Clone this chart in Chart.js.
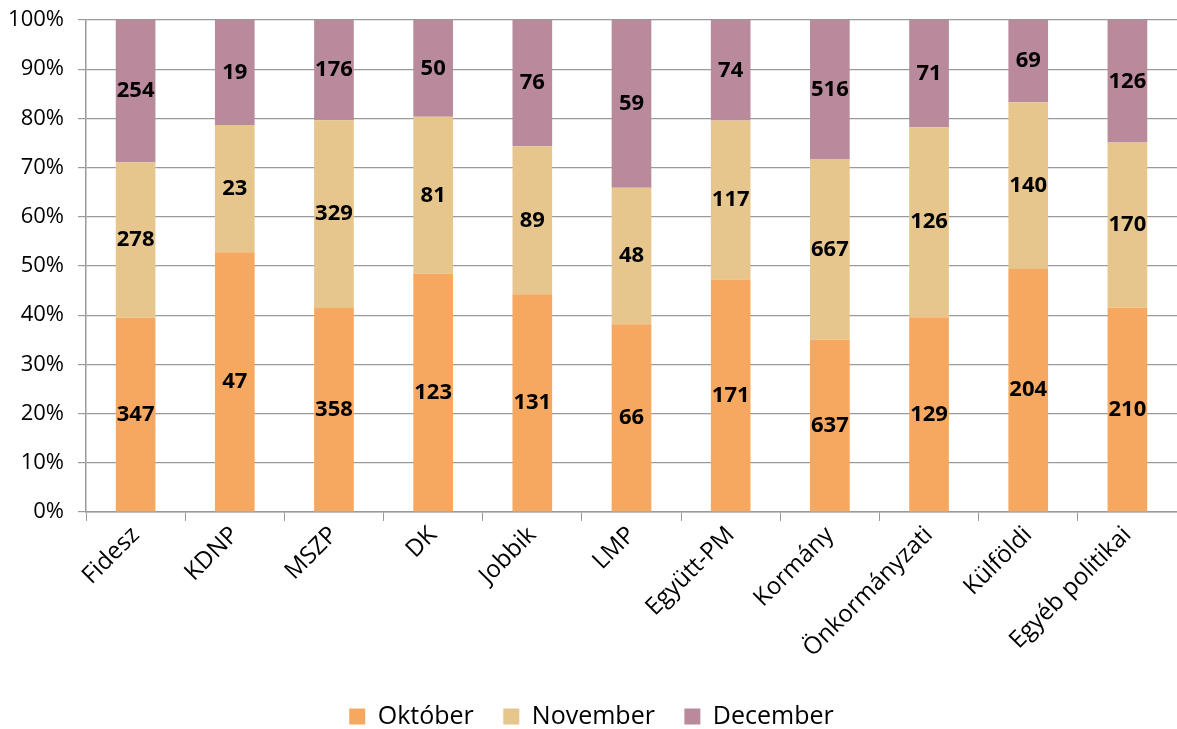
<!DOCTYPE html>
<html>
<head>
<meta charset="utf-8">
<script src="https://cdn.jsdelivr.net/npm/chart.js@4/dist/chart.umd.min.js"></script>
<style>
    html, body { margin: 0; padding: 0; background: #fff; }
    #wrap { width: 1177px; height: 729px; }
</style>
</head>
<body>
<div id="wrap"><canvas id="chart"></canvas></div>
<script>
const categories = ['Fidesz', 'KDNP', 'MSZP', 'DK', 'Jobbik', 'LMP', 'Együtt-PM', 'Kormány', 'Önkormányzati', 'Külföldi', 'Egyéb politikai'];
const oktober = [347, 47, 358, 123, 131, 66, 171, 637, 129, 204, 210];
const november = [278, 23, 329, 81, 89, 48, 117, 667, 126, 140, 170];
const december = [254, 19, 176, 50, 76, 59, 74, 516, 71, 69, 126];
const seriesNames = ['Október', 'November', 'December'];
const seriesColors = ['#F6A860', '#E6C68D', '#B9899C'];

const FONT = '"Open Sans", "Noto Sans", sans-serif';

// counts -> share of the category total, in percent
const totals = categories.map((c, i) => oktober[i] + november[i] + december[i]);
function toPercent(arr) {
    return arr.map((v, i) => v / totals[i] * 100);
}

const rawSeries = [oktober, november, december];

// draw the raw counts in the middle of each segment
const valueLabels = {
    id: 'valueLabels',
    afterDatasetsDraw(chart) {
        const ctx = chart.ctx;
        ctx.save();
        ctx.font = 'bold 22px ' + FONT;
        ctx.fillStyle = '#000';
        ctx.textAlign = 'center';
        ctx.textBaseline = 'middle';
        chart.data.datasets.forEach((ds, di) => {
            chart.getDatasetMeta(di).data.forEach((bar, i) => {
                const mid = (bar.y + bar.base) / 2;
                ctx.fillText(String(rawSeries[di][i]), bar.x, mid);
            });
        });
        ctx.restore();
    }
};

new Chart(document.getElementById('chart'), {
    type: 'bar',
    data: {
        labels: categories,
        datasets: seriesNames.map((name, i) => ({
            label: name,
            data: toPercent(rawSeries[i]),
            backgroundColor: seriesColors[i],
            barPercentage: 0.4,
            categoryPercentage: 1.0
        }))
    },
    options: {
        responsive: true,
        maintainAspectRatio: false,
        animation: false,
        layout: { padding: { top: 20, right: -6, left: 0, bottom: -10 } },
        plugins: {
            legend: {
                position: 'bottom',
                labels: {
                    font: { family: FONT, size: 25 },
                    color: '#000',
                    boxWidth: 16,
                    boxHeight: 16,
                    padding: 10,
                    // wider gaps between the items, like the original
                    generateLabels: chart => {
                        const items = Chart.defaults.plugins.legend.labels.generateLabels(chart);
                        items.forEach((it, i) => {
                            if (i < items.length - 1) it.text = it.text + '   ';
                        });
                        return items;
                    }
                }
            },
            tooltip: { enabled: false }
        },
        scales: {
            x: {
                stacked: true,
                afterFit: s => { s.height = 182; },
                grid: {
                    display: true,
                    drawOnChartArea: false,
                    offset: true,
                    tickLength: 9,
                    color: '#9a9a9a'
                },
                border: { color: '#9a9a9a', width: 1.5 },
                ticks: {
                    font: { family: FONT, size: 24 },
                    color: '#000',
                    minRotation: 45,
                    maxRotation: 45,
                    autoSkip: false,
                    padding: 0
                }
            },
            y: {
                stacked: true,
                min: 0,
                max: 100,
                afterFit: s => { s.width = 86; s.paddingTop = 0; s.paddingBottom = 0; },
                grid: { color: '#9a9a9a', lineWidth: 1.2, tickLength: 8 },
                border: { color: '#9a9a9a', width: 1.5 },
                ticks: {
                    stepSize: 10,
                    font: { family: FONT, size: 22 },
                    color: '#000',
                    padding: 14,
                    callback: v => v + '%'
                }
            }
        }
    },
    plugins: [valueLabels]
});
</script>
</body>
</html>
